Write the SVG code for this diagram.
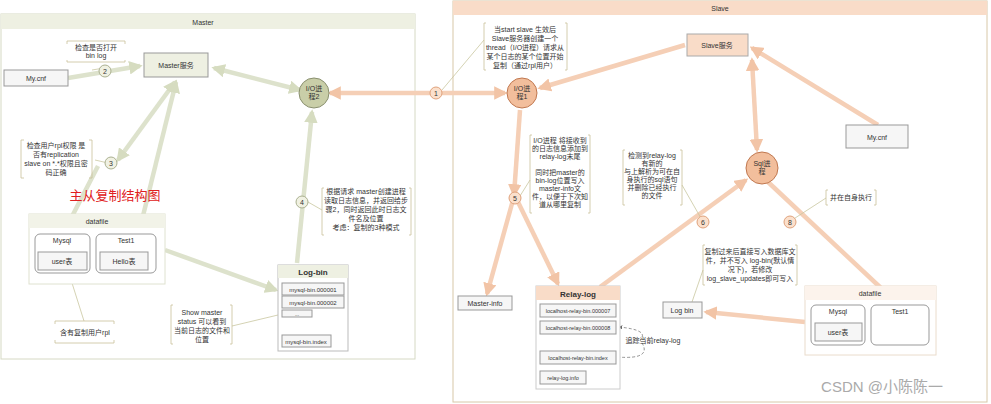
<svg xmlns="http://www.w3.org/2000/svg" width="991" height="404" viewBox="0 0 991 404">
<defs>
<marker id="ag" viewBox="0 0 10 10" refX="8" refY="5" markerWidth="3" markerHeight="3" orient="auto-start-reverse"><path d="M0,0L10,5L0,10z" fill="#d6dcc0"/></marker>
<marker id="ap" viewBox="0 0 10 10" refX="8" refY="5" markerWidth="3" markerHeight="3" orient="auto-start-reverse"><path d="M0,0L10,5L0,10z" fill="#f2c4a6"/></marker>
<marker id="ak" viewBox="0 0 10 10" refX="8" refY="5" markerWidth="6" markerHeight="6" orient="auto"><path d="M0,0L10,5L0,10z" fill="#666"/></marker>
</defs>
<style>
text{font-family:"Liberation Sans","Noto Sans CJK SC",sans-serif;font-size:7px;fill:#333;text-anchor:middle}
.g{stroke:#dde2cc;stroke-width:4.5;fill:none;marker-end:url(#ag)}
.p{stroke:#f5cfb6;stroke-width:4.5;fill:none;marker-end:url(#ap)}
.t{stroke:#c9c6a0;stroke-width:0.8;fill:none}
.box{fill:#f6f6f6;stroke:#999;stroke-width:1}
.mbox{fill:#eef0e2;stroke:#999}
.pbox{fill:#f9dcc8;stroke:#aaa}
.br{fill:none;stroke:#c9c09a;stroke-width:0.8}
.cg{fill:#f0f1e2;stroke:#aab090}
.cp{fill:#fbe0cc;stroke:#e0a27c}
</style>
<rect width="991" height="404" fill="#fff"/>
<g id="master-panel"><rect x="1" y="14" width="414" height="345" fill="#fff" stroke="#d6d9c4"/><rect x="1" y="14" width="414" height="15" fill="#eef0e2"/><text x="203" y="25">Master</text></g>
<g id="slave-panel"><rect x="453" y="1" width="534" height="401" fill="#fff" stroke="#d8c8a8"/><rect x="453" y="1" width="534" height="14" fill="#f9dcc8"/><text x="720" y="11">Slave</text></g>
<g id="connectors">
<path class="g" d="M68,78L140,66"/>
<path class="g" d="M300,90L214,68" style="marker-start:url(#ag)"/>
<path class="g" d="M297,263L312,112"/>
<path class="g" d="M118,160L175,82" style="marker-start:url(#ag)"/>
<path class="g" d="M98,166L64,232"/>
<path class="g" d="M140,228L176,82"/>
<path class="g" d="M165,250L276,290"/>
<path class="p" d="M330,93L505,93" style="marker-start:url(#ap)"/>
<path class="p" d="M685,45L540,88"/>
<path class="p" d="M752,60L757,150" style="marker-start:url(#ap)"/>
<path class="p" d="M878,125L752,48"/>
<path class="p" d="M520,110L514,195"/>
<path class="p" d="M513,200L487,294"/>
<path class="p" d="M518,202L558,284"/>
<path class="p" d="M600,287L746,180"/>
<path class="p" d="M768,182L898,304"/>
<path class="p" d="M805,322L706,312"/>
<path class="t" d="M92,70L104,68"/><path class="t" d="M95,160L108,163"/><path class="t" d="M308,202L322,210"/>
<path class="t" d="M66,264L84,321"/><path class="t" d="M232,326L278,315"/>
<path class="t" d="M484,40L442,90"/><path class="t" d="M520,196L530,180"/><path class="t" d="M682,185L702,220"/>
<path class="t" d="M792,220L826,198"/><path class="t" d="M703,270L692,302"/>
<path d="M617,357Q655,360 640,340Q650,330 619,327" fill="none" stroke="#666" stroke-width="0.7" stroke-dasharray="3,2" marker-end="url(#ak)"/>
</g>
<g id="mycnf-m"><rect class="box" x="4" y="70" width="64" height="16"/><text x="36" y="81">My.cnf</text></g>
<g id="master-svc"><rect class="mbox" x="144" y="53" width="64" height="24"/><text x="176" y="68">Master服务</text></g>
<g id="c2"><circle class="cg" cx="105" cy="71" r="6"/><text x="105" y="74">2</text></g>
<g id="note2"><path class="br" d="M67,44V41H125V44M67,60V62H125V60"/><text x="96" y="50">检查是否打开</text><text x="96" y="58">bin log</text></g>
<g id="io2"><circle cx="314" cy="93" r="15" fill="#c9cea8" stroke="#8a9070"/><text x="314" y="91">I/O进</text><text x="314" y="99">程2</text></g>
<g id="c1"><circle class="cp" cx="436" cy="93" r="6"/><text x="436" y="96">1</text></g>
<g id="c3"><circle class="cg" cx="111" cy="163" r="6"/><text x="111" y="166">3</text></g>
<g id="note3"><path class="br" d="M24,140H21V178H24M89,140H92V178H89"/><text x="56" y="148">检查用户rpl权限 是</text><text x="56" y="157">否有replication</text><text x="56" y="166">slave on *.*权限且密</text><text x="56" y="175">码正确</text></g>
<text x="115" y="200" style="fill:#e02020;font-size:13px">主从复制结构图</text>
<g id="datafile-m"><rect x="29" y="214" width="136" height="70" fill="#fff" stroke="#dfe2d0"/><rect x="29" y="214" width="136" height="14" fill="#f2f3e8"/><text x="97" y="224">datafile</text>
<rect x="35" y="234" width="55" height="39" rx="5" fill="#fff" stroke="#999"/><text x="62" y="243">Mysql</text><rect class="box" x="38" y="252" width="49" height="18"/><text x="62" y="264">user表</text>
<rect x="96" y="234" width="60" height="39" rx="5" fill="#fff" stroke="#999"/><text x="126" y="243">Test1</text><rect class="box" x="100" y="252" width="48" height="18"/><text x="124" y="264">Hello表</text></g>
<g id="c4"><circle class="cg" cx="302" cy="202" r="6"/><text x="302" y="205">4</text></g>
<g id="note4"><path class="br" d="M324,188H322V235H324M409,188H411V235H409"/><text x="366" y="194">根据请求 master创建进程</text><text x="366" y="203">读取日志信息，并返回给步</text><text x="366" y="212">骤2，同时返回此时日志文</text><text x="366" y="221">件名及位置</text><text x="366" y="230">考虑：复制的3种模式</text></g>
<g id="logbin-m"><rect x="278" y="265" width="70" height="86" fill="#fff" stroke="#bbb"/><rect x="278" y="265" width="70" height="13" fill="#eef0e2"/><text x="313" y="275" style="font-size:8px;font-weight:bold">Log-bin</text>
<rect class="box" x="282" y="283" width="62" height="12"/><text x="313" y="292" style="font-size:6px">mysql-bin.000001</text>
<rect class="box" x="282" y="296" width="62" height="12"/><text x="313" y="305" style="font-size:6px">mysql-bin.000002</text>
<rect class="box" x="282" y="310" width="30" height="7"/><text x="297" y="316" style="font-size:5px">...</text>
<rect class="box" x="282" y="335" width="49" height="12"/><text x="306" y="344" style="font-size:6px">mysql-bin.index</text></g>
<g id="note-show"><path class="br" d="M173,305H171V344H173M230,305H232V344H230"/><text x="202" y="315">Show master</text><text x="202" y="324">status 可以看到</text><text x="202" y="333">当前日志的文件和</text><text x="202" y="342">位置</text></g>
<g id="note-rpl"><path class="br" d="M55,324V321H114V324M55,340V343H114V340"/><text x="85" y="335">含有复制用户rpl</text></g>
<g id="slave-svc"><rect class="pbox" x="687" y="34" width="61" height="22"/><text x="717" y="48">Slave服务</text></g>
<g id="io1"><circle cx="522" cy="93" r="15" fill="#f2be9c" stroke="#c07850"/><text x="522" y="91">I/O进</text><text x="522" y="99">程1</text></g>
<g id="note-start"><path class="br" d="M486,23H484V70H486M565,23H567V70H565"/><text x="525" y="32">当start slave 生效后</text><text x="525" y="41">Slave服务器创建一个</text><text x="525" y="50">thread（I/O进程）请求从</text><text x="525" y="59">某个日志的某个位置开始</text><text x="525" y="68">复制（通过rpl用户）</text></g>
<g id="mycnf-s"><rect class="box" x="846" y="125" width="62" height="23"/><text x="877" y="140">My.cnf</text></g>
<g id="sql"><circle cx="762" cy="168" r="16" fill="#f2be9c" stroke="#c07850"/><text x="762" y="166">Sql进</text><text x="762" y="174">程</text></g>
<g id="c5"><circle class="cp" cx="515" cy="198" r="6"/><text x="515" y="201">5</text></g>
<g id="note5"><path class="br" d="M532,135H530V213H532M588,135H590V213H588"/><text x="560" y="143">I/O进程 将接收到</text><text x="560" y="151">的日志信息添加到</text><text x="560" y="159">relay-log末尾</text><text x="560" y="175">同时把master的</text><text x="560" y="183">bin-log位置写入</text><text x="560" y="191">master-info文</text><text x="560" y="199">件，以便于下次知</text><text x="560" y="207">道从哪里复制</text></g>
<g id="c6"><circle class="cp" cx="703" cy="222" r="6"/><text x="703" y="225">6</text></g>
<g id="note6"><path class="br" d="M625,150H623V205H625M680,150H682V205H680"/><text x="652" y="158">检测到relay-log</text><text x="652" y="166">有新的</text><text x="652" y="174">与上解析为可在自</text><text x="652" y="182">身执行的sql语句</text><text x="652" y="190">并删除已经执行</text><text x="652" y="198">的文件</text></g>
<g id="c8"><circle class="cp" cx="790" cy="222" r="6"/><text x="790" y="225">8</text></g>
<g id="note8"><path class="br" d="M828,190H826V205H828M874,190H876V205H874"/><text x="851" y="200">并在自身执行</text></g>
<g id="note-log"><path class="br" d="M705,245H703V285H705M795,245H797V285H795"/><text x="750" y="254">复制过来后直接写入数据库文</text><text x="750" y="263">件，并不写入 log-bin(默认情</text><text x="750" y="272">况下)，若修改</text><text x="750" y="281">log_slave_updates即可写入</text></g>
<g id="master-info"><rect class="box" x="458" y="296" width="54" height="14"/><text x="485" y="306">Master-info</text></g>
<g id="relay-log"><rect x="536" y="286" width="84" height="103" fill="#fff" stroke="#ccc"/><rect x="536" y="286" width="84" height="14" fill="#f9dcc8"/><text x="578" y="297" style="font-size:8px;font-weight:bold">Relay-log</text>
<rect class="box" x="540" y="304" width="76" height="13"/><text x="578" y="313" style="font-size:5.5px">localhost-relay-bin.000007</text>
<rect class="box" x="540" y="321" width="76" height="13"/><text x="578" y="330" style="font-size:5.5px">localhost-relay-bin.000008</text>
<rect class="box" x="540" y="351" width="76" height="13"/><text x="578" y="360" style="font-size:5.5px">localhost-relay-bin.index</text>
<rect class="box" x="540" y="371" width="46" height="13"/><text x="563" y="380" style="font-size:5.5px">relay-log.info</text></g>
<text x="653" y="343">追踪当前relay-log</text>
<g id="logbin-s"><rect class="box" x="663" y="302" width="39" height="16"/><text x="682" y="313">Log bin</text></g>
<g id="datafile-s"><rect x="805" y="286" width="131" height="69" fill="#fff" stroke="#eadccc"/><rect x="805" y="286" width="131" height="14" fill="#fcf3ec"/><text x="870" y="296">datafile</text>
<rect x="811" y="305" width="54" height="40" rx="5" fill="#fff" stroke="#999"/><text x="838" y="314">Mysql</text><rect class="box" x="815" y="323" width="47" height="18"/><text x="838" y="335">user表</text>
<rect x="871" y="305" width="58" height="40" rx="5" fill="#fff" stroke="#999"/><text x="900" y="314">Test1</text></g>
<text x="882" y="392" style="font-size:15px;fill:#aaa">CSDN @小陈陈一</text>
</svg>
